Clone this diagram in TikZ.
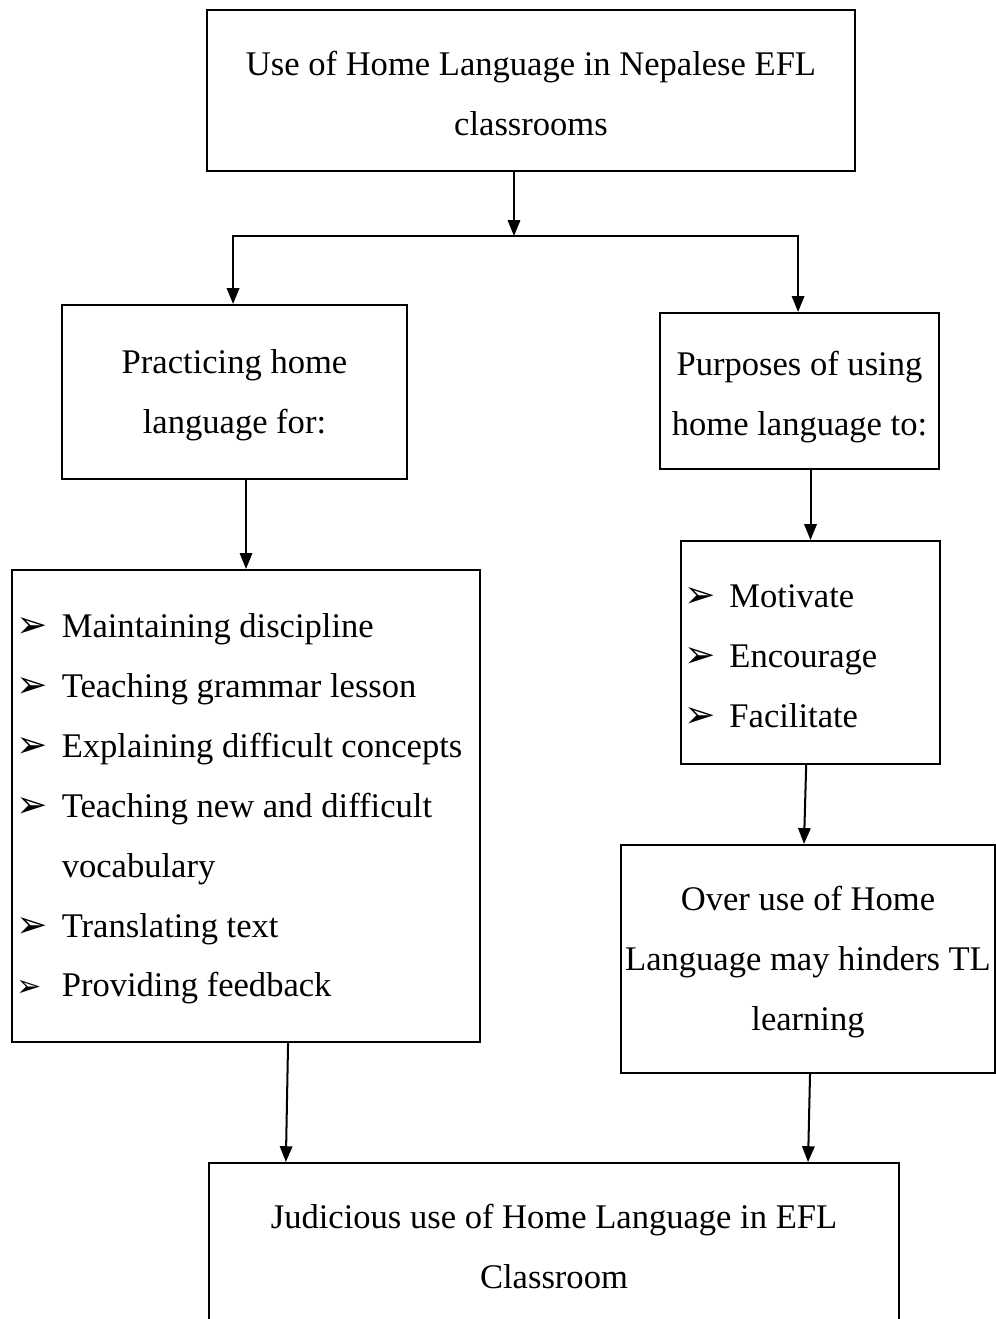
\documentclass[tikz,border=0pt]{standalone}
\usepackage{fontspec}
\setmainfont{Liberation Serif}
\newfontfamily\dejavu{DejaVu Sans}
\usetikzlibrary{arrows.meta}
\newcommand{\bul}{\makebox[15.6pt][l]{\dejavu\fontsize{13}{13}\selectfont ➢}}
\newcommand{\bulsm}{\makebox[15.6pt][l]{\dejavu\fontsize{10.5}{10.5}\selectfont ➢}}
\newcommand{\up}{\rule{0pt}{10.4pt}}
\newcommand{\upp}{\rule{0pt}{12.8pt}}
\begin{document}
\begin{tikzpicture}[x=0.3472pt,y=-0.3472pt,
  box/.style={draw, line width=0.7pt, inner sep=0pt, align=center, font=\fontsize{12}{20.8}\selectfont},
  listbox/.style={box, align=flush left},
  arr/.style={line width=0.7pt, -{Triangle[length=5.5pt,width=4.3pt]}}]
\useasboundingbox (0,0) rectangle (995,1319);

\node[box, minimum width=225pt, minimum height=55.9pt] (top) at (531,90.5)
  {\up Use of Home Language in Nepalese EFL\\classrooms};
\coordinate (j) at (514,236);

\node[box, minimum width=119.8pt, minimum height=60.4pt] (prac) at (234.5,392)
  {\up Practicing home\\language for:};
\node[box, minimum width=96.9pt, minimum height=54.2pt] (purp) at (799.5,391)
  {\upp Purposes of using\\home language to:};

\node[listbox, minimum width=162.5pt, minimum height=163.9pt, inner xsep=1.7pt, text width=159.1pt] (list) at (246,806)
  {\up\bul Maintaining discipline\\
   \bul Teaching grammar lesson\\
   \bul Explaining difficult concepts\\
   \bul Teaching new and difficult\\
   \hspace*{15.6pt}vocabulary\\
   \bul Translating text\\
   \bulsm Providing feedback};

\node[listbox, minimum width=89.9pt, minimum height=77.4pt, inner xsep=1.2pt, text width=87.5pt] (motiv) at (810.5,652.5)
  {\up\bul Motivate\\
   \bul Encourage\\
   \bul Facilitate};

\node[box, minimum width=129.9pt, minimum height=79.2pt] (over) at (808,959)
  {\up Over use of Home\\Language may hinders TL\\learning};

\node[box, minimum width=239.6pt, minimum height=56.2pt] (bottom) at (554,1244)
  {\up Judicious use of Home Language in EFL\\Classroom};

\draw[arr] (top.south -| j) -- (j);
\draw[arr] (j) -| ([xshift=-0.5pt]prac.north);
\draw[arr] (j) -| ([xshift=-0.5pt]purp.north);
\draw[arr] (prac.south -| list.north) -- (list.north);
\draw[arr] (purp.south -| motiv.north) -- (motiv.north);
\draw[arr] ([xshift=-1.5pt]motiv.south) -- ([xshift=-1.4pt]over.north);
\draw[arr] ([xshift=14.6pt]list.south) -- ([xshift=-93.1pt]bottom.north);
\draw[arr] ([xshift=0.7pt]over.south) -- ([xshift=88.2pt]bottom.north);
\end{tikzpicture}
\end{document}
